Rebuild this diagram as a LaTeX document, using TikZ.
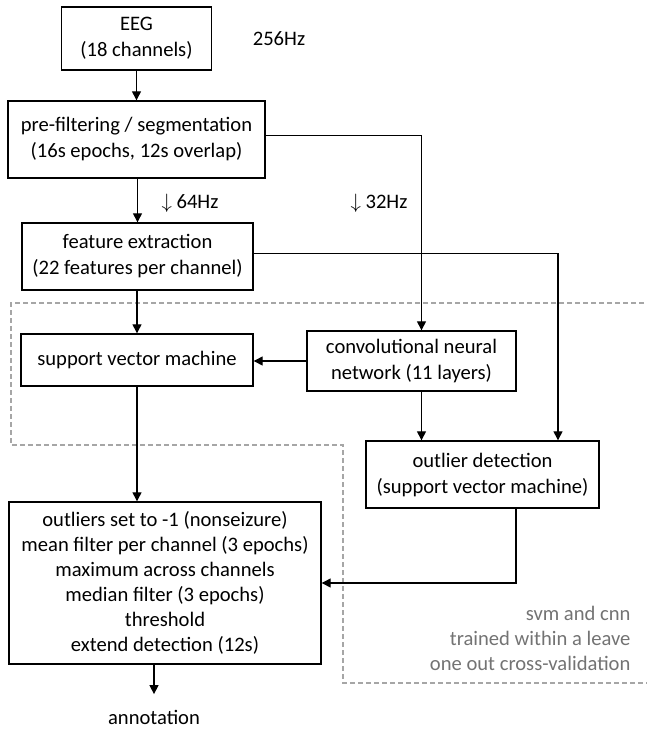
\documentclass[tikz,border=0pt]{standalone}
\usepackage{fontspec}
\setmainfont{Carlito}
\usetikzlibrary{arrows.meta}
\begin{document}
\begin{tikzpicture}[x=1pt,y=-1pt,
    font=\fontsize{20.6}{26}\selectfont,
    >={Triangle[length=9pt,width=9pt]},
    box/.style={draw,line width=1.4pt,align=center,inner sep=0pt},
    flow/.style={->,line width=1.3pt},
    note/.style={align=right,text=black!55}]
  \useasboundingbox (0,0) rectangle (647,729);
  % leave one out region
  \draw[black!35,line width=1.3pt,dash pattern=on 5pt off 3pt]
    (660,303) -- (11,303) -- (11,445) -- (343,445) -- (343,683) -- (660,683);
  \node[box,minimum width=150pt,minimum height=63pt] (eeg) at (136.5,38.5) {EEG\\(18 channels)};
  \node (fs) at (279,39) {256Hz};
  \node[box,minimum width=257pt,minimum height=77pt] (pre) at (136.5,139.5) {pre-filtering / segmentation\\(16s epochs, 12s overlap)};
  \node[box,minimum width=231pt,minimum height=67pt] (feat) at (137.5,256.5) {feature extraction\\(22 features per channel)};
  \node (ds64) at (190,203) {$\downarrow$ 64Hz};
  \node (ds32) at (379,203) {$\downarrow$ 32Hz};
  \node[box,minimum width=232pt,minimum height=52pt] (svm) at (137,360) {support vector machine};
  \node[box,minimum width=209pt,minimum height=60pt] (cnn) at (411.5,361) {convolutional neural\\network (11 layers)};
  \node[box,minimum width=233pt,minimum height=67pt] (outl) at (482.5,474.5) {outlier detection\\(support vector machine)};
  \node[box,minimum width=312pt,minimum height=162pt,font=\fontsize{20.6}{25}\selectfont] (post) at (165,583)
    {outliers set to -1 (nonseizure)\\mean filter per channel (3 epochs)\\maximum across channels\\median filter (3 epochs)\\threshold\\extend detection (12s)};
  \node[inner sep=0pt] (ann) at (154,717) {annotation};
  \node[note,anchor=east,font=\fontsize{20.6}{25}\selectfont] (cv) at (634,638) {svm and cnn\\trained within a leave\\one out cross-validation};
  % connectors
  \draw[flow] (eeg) -- (pre);
  \draw[flow] (pre.south -| feat.north) -- (feat.north);
  \draw[flow] (feat.south -| svm.north) -- (svm.north);
  \draw[flow] ([yshift=4pt]pre.east) -| ([xshift=10pt]cnn.north);
  \draw[flow] ([yshift=3pt]feat.east) -| ([xshift=75.5pt]outl.north);
  \draw[flow] (cnn.west) -- (cnn.west -| svm.east);
  \draw[flow] ([xshift=10pt]cnn.south) -- ([xshift=10pt]cnn.south |- outl.north);
  \draw[flow] (svm.south) -- (svm.south |- post.north);
  \draw[flow] ([xshift=33.5pt]outl.south) |- (post.east);
  \draw[flow,shorten >=15.5pt] (post.south -| ann.north) -- (ann.north);
\end{tikzpicture}
\end{document}
